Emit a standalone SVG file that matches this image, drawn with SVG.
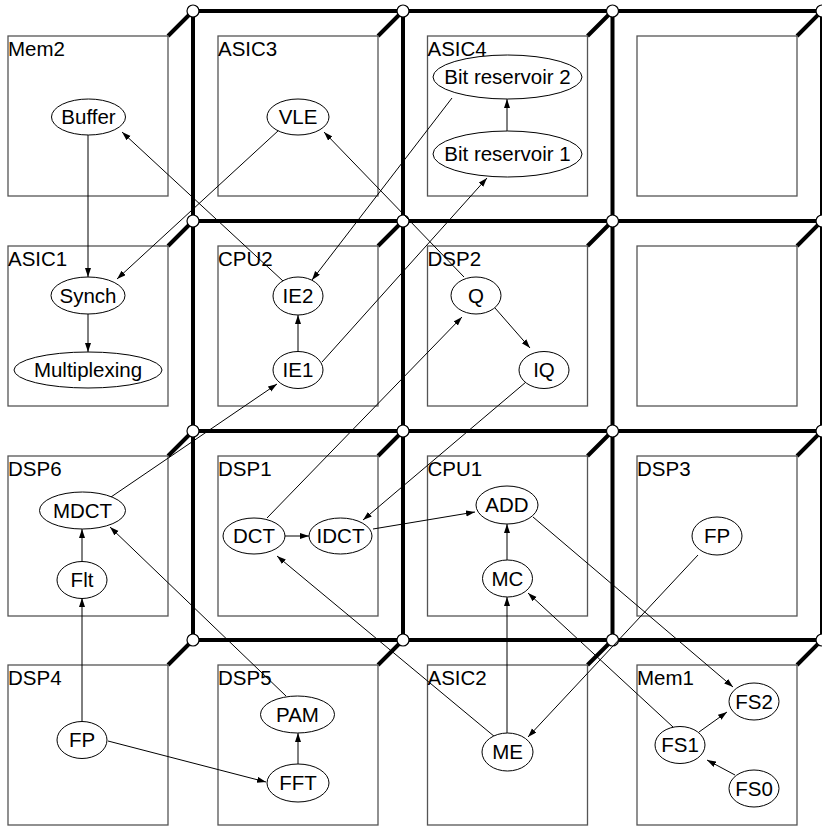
<svg xmlns="http://www.w3.org/2000/svg" width="822" height="826" viewBox="0 0 822 826">
<style>
.bg{fill:#fff}
.thick{stroke:#000;stroke-width:4;fill:none;stroke-linecap:butt}
.box{fill:none;stroke:#555;stroke-width:1.3}
.jn{fill:#fff;stroke:#000;stroke-width:1.2}
.lbl{font-family:"Liberation Sans",Arial,sans-serif;font-size:20.5px;fill:#000}
.task ellipse{fill:#fff;stroke:#000;stroke-width:1}
.task text{font-family:"Liberation Sans",Arial,sans-serif;font-size:20.5px;fill:#000;text-anchor:middle}
.edge{stroke:#000;stroke-width:1;fill:none;marker-end:url(#ah)}
</style>
<defs>
<marker id="ah" markerUnits="userSpaceOnUse" markerWidth="10" markerHeight="7" refX="9" refY="3" orient="auto">
<path d="M0,0 L9,3 L0,6 z" fill="#000"/>
</marker>
</defs>
<rect class="bg" x="0" y="0" width="822" height="826"/>
<g id="fabric">
<path class="thick" d="M193,11H822M193,221H822M193,431H822M193,640H822"/>
<path class="thick" d="M193,11V640M403,11V640M612.5,11V640M822,11V640"/>
<path class="thick" d="M168,36L193,11M378,36L403,11M587.5,36L612.5,11M797,36L822,11
M168,246L193,221M378,246L403,221M587.5,246L612.5,221M797,246L822,221
M168,456L193,431M378,456L403,431M587.5,456L612.5,431M797,456L822,431
M168,665L193,640M378,665L403,640M587.5,665L612.5,640M797,665L822,640"/>
</g>
<g id="pe-mem2"><rect class="box" x="8" y="36" width="160" height="160"/><text class="lbl" x="8" y="55.5">Mem2</text></g>
<g id="pe-asic3"><rect class="box" x="218" y="36" width="160" height="160"/><text class="lbl" x="218" y="55.5">ASIC3</text></g>
<g id="pe-asic4"><rect class="box" x="427.5" y="36" width="160" height="160"/><text class="lbl" x="427.5" y="55.5">ASIC4</text></g>
<g id="pe-empty1"><rect class="box" x="637" y="36" width="160" height="160"/></g>
<g id="pe-asic1"><rect class="box" x="8" y="246" width="160" height="160"/><text class="lbl" x="8" y="265.5">ASIC1</text></g>
<g id="pe-cpu2"><rect class="box" x="218" y="246" width="160" height="160"/><text class="lbl" x="218" y="265.5">CPU2</text></g>
<g id="pe-dsp2"><rect class="box" x="427.5" y="246" width="160" height="160"/><text class="lbl" x="427.5" y="265.5">DSP2</text></g>
<g id="pe-empty2"><rect class="box" x="637" y="246" width="160" height="160"/></g>
<g id="pe-dsp6"><rect class="box" x="8" y="456" width="160" height="160"/><text class="lbl" x="8" y="475.5">DSP6</text></g>
<g id="pe-dsp1"><rect class="box" x="218" y="456" width="160" height="160"/><text class="lbl" x="218" y="475.5">DSP1</text></g>
<g id="pe-cpu1"><rect class="box" x="427.5" y="456" width="160" height="160"/><text class="lbl" x="427.5" y="475.5">CPU1</text></g>
<g id="pe-dsp3"><rect class="box" x="637" y="456" width="160" height="160"/><text class="lbl" x="637" y="475.5">DSP3</text></g>
<g id="pe-dsp4"><rect class="box" x="8" y="665" width="160" height="160"/><text class="lbl" x="8" y="684.5">DSP4</text></g>
<g id="pe-dsp5"><rect class="box" x="218" y="665" width="160" height="160"/><text class="lbl" x="218" y="684.5">DSP5</text></g>
<g id="pe-asic2"><rect class="box" x="427.5" y="665" width="160" height="160"/><text class="lbl" x="427.5" y="684.5">ASIC2</text></g>
<g id="pe-mem1"><rect class="box" x="637" y="665" width="160" height="160"/><text class="lbl" x="637" y="684.5">Mem1</text></g>
<g id="junctions">
<circle class="jn" cx="193" cy="11" r="6"/><circle class="jn" cx="403" cy="11" r="6"/><circle class="jn" cx="612.5" cy="11" r="6"/><circle class="jn" cx="822" cy="11" r="6"/>
<circle class="jn" cx="193" cy="221" r="6"/><circle class="jn" cx="403" cy="221" r="6"/><circle class="jn" cx="612.5" cy="221" r="6"/><circle class="jn" cx="822" cy="221" r="6"/>
<circle class="jn" cx="193" cy="431" r="6"/><circle class="jn" cx="403" cy="431" r="6"/><circle class="jn" cx="612.5" cy="431" r="6"/><circle class="jn" cx="822" cy="431" r="6"/>
<circle class="jn" cx="193" cy="640" r="6"/><circle class="jn" cx="403" cy="640" r="6"/><circle class="jn" cx="612.5" cy="640" r="6"/><circle class="jn" cx="822" cy="640" r="6"/>
</g>
<g id="connectors">
<path class="edge" d="M88,135L88,277"/>
<path class="edge" d="M88,314L88,352"/>
<path class="edge" d="M279,130L117,279"/>
<path class="edge" d="M283,281L122,132"/>
<path class="edge" d="M464,277L324,132"/>
<path class="edge" d="M452,98L312,280"/>
<path class="edge" d="M507,131L507,99"/>
<path class="edge" d="M322,362L487,178"/>
<path class="edge" d="M298,352L298,315"/>
<path class="edge" d="M111,497L277,384"/>
<path class="edge" d="M495,308L530,348"/>
<path class="edge" d="M267,518L462,317"/>
<path class="edge" d="M526,382L363,520"/>
<path class="edge" d="M285,536L309,536"/>
<path class="edge" d="M373,529L475,512"/>
<path class="edge" d="M507,560L507,524"/>
<path class="edge" d="M533,517L733,687"/>
<path class="edge" d="M82,561L82,529"/>
<path class="edge" d="M82,721L82,598"/>
<path class="edge" d="M286,696L110,527"/>
<path class="edge" d="M108,741L266,782"/>
<path class="edge" d="M298,764L298,733"/>
<path class="edge" d="M495,737L277,556"/>
<path class="edge" d="M507,733L507,597"/>
<path class="edge" d="M698,555L528,737"/>
<path class="edge" d="M673,727L528,593"/>
<path class="edge" d="M699,732L727,712"/>
<path class="edge" d="M735,775L707,760"/>
</g>
<g id="t-buffer" class="task"><ellipse cx="88.5" cy="117" rx="37" ry="18"/><text x="88.5" y="124">Buffer</text></g>
<g id="t-vle" class="task"><ellipse cx="298" cy="117" rx="31" ry="18"/><text x="298" y="124">VLE</text></g>
<g id="t-br2" class="task"><ellipse cx="507.5" cy="77" rx="74.5" ry="22"/><text x="507.5" y="84">Bit reservoir 2</text></g>
<g id="t-br1" class="task"><ellipse cx="507.5" cy="154" rx="74.5" ry="23"/><text x="507.5" y="161">Bit reservoir 1</text></g>
<g id="t-synch" class="task"><ellipse cx="88" cy="295.5" rx="37" ry="18.5"/><text x="88" y="302.5">Synch</text></g>
<g id="t-mux" class="task"><ellipse cx="88" cy="370" rx="74" ry="18"/><text x="88" y="377">Multiplexing</text></g>
<g id="t-ie2" class="task"><ellipse cx="298" cy="296" rx="25" ry="19"/><text x="298" y="303">IE2</text></g>
<g id="t-ie1" class="task"><ellipse cx="298" cy="370" rx="25" ry="18.5"/><text x="298" y="377">IE1</text></g>
<g id="t-q" class="task"><ellipse cx="476" cy="295.5" rx="25" ry="18.5"/><text x="476" y="302.5">Q</text></g>
<g id="t-iq" class="task"><ellipse cx="544" cy="370" rx="25" ry="18.5"/><text x="544" y="377">IQ</text></g>
<g id="t-mdct" class="task"><ellipse cx="82.5" cy="510.5" rx="43" ry="18.5"/><text x="82.5" y="517.5">MDCT</text></g>
<g id="t-flt" class="task"><ellipse cx="82" cy="580" rx="25" ry="18.5"/><text x="82" y="587">Flt</text></g>
<g id="t-dct" class="task"><ellipse cx="254" cy="536" rx="31" ry="18"/><text x="254" y="543">DCT</text></g>
<g id="t-idct" class="task"><ellipse cx="340.5" cy="536" rx="31.5" ry="18"/><text x="340.5" y="543">IDCT</text></g>
<g id="t-add" class="task"><ellipse cx="507" cy="505" rx="31" ry="19"/><text x="507" y="512">ADD</text></g>
<g id="t-mc" class="task"><ellipse cx="507.5" cy="578.5" rx="25" ry="18.5"/><text x="507.5" y="585.5">MC</text></g>
<g id="t-fp3" class="task"><ellipse cx="717" cy="536" rx="25" ry="19"/><text x="717" y="543">FP</text></g>
<g id="t-fp4" class="task"><ellipse cx="82" cy="740" rx="25" ry="18.5"/><text x="82" y="747">FP</text></g>
<g id="t-pam" class="task"><ellipse cx="297.5" cy="714.5" rx="37" ry="18.5"/><text x="297.5" y="721.5">PAM</text></g>
<g id="t-fft" class="task"><ellipse cx="298" cy="783" rx="31" ry="19"/><text x="298" y="790">FFT</text></g>
<g id="t-me" class="task"><ellipse cx="507.5" cy="752" rx="25.5" ry="19"/><text x="507.5" y="759">ME</text></g>
<g id="t-fs2" class="task"><ellipse cx="754" cy="701.5" rx="25" ry="18.5"/><text x="754" y="708.5">FS2</text></g>
<g id="t-fs1" class="task"><ellipse cx="680" cy="745" rx="25" ry="18.5"/><text x="680" y="752">FS1</text></g>
<g id="t-fs0" class="task"><ellipse cx="754" cy="788.5" rx="25" ry="18.5"/><text x="754" y="795.5">FS0</text></g>
</svg>
